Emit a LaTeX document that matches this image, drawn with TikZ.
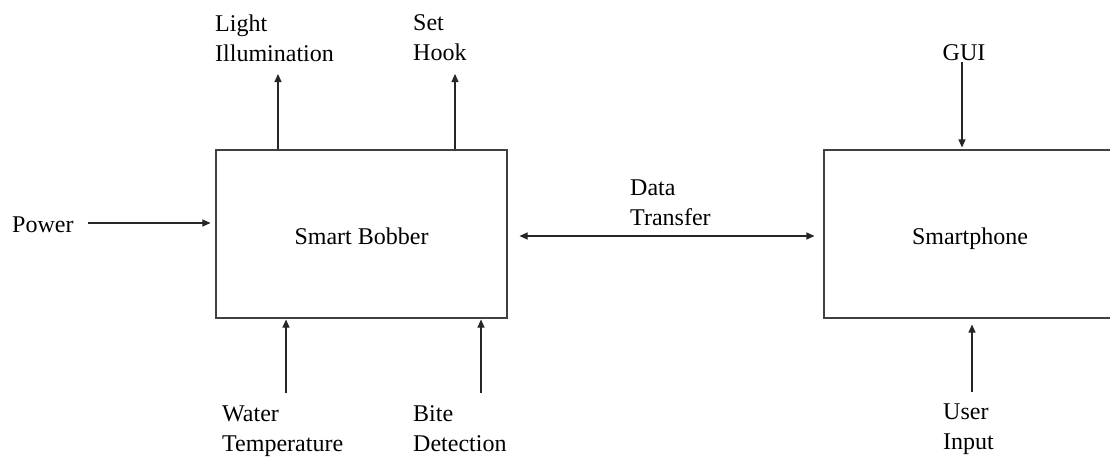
\documentclass[tikz,border=0pt]{standalone}
\usepackage{fontspec}
\setmainfont{Liberation Serif}
\usetikzlibrary{arrows.meta}
\begin{document}
\begin{tikzpicture}[x=1pt,y=-1pt,
  lbl/.style={inner sep=0pt,font=\fontsize{24}{30}\selectfont,align=left},
  blk/.style={draw=black!75,line width=1.1pt,inner sep=0pt,text height=25pt,text depth=5pt,font=\fontsize{24}{30}\selectfont},
  arr/.style={draw=black!85,line width=1.1pt,-{Triangle[length=8pt,width=7pt]}},
  darr/.style={draw=black!85,line width=1.1pt,{Triangle[length=8pt,width=7pt]}-{Triangle[length=8pt,width=7pt]}}]
\useasboundingbox (0,0) rectangle (1110,458);
\clip (0,0) rectangle (1110,458);
\fill[white] (0,0) rectangle (1110,458);
% blocks
\node[blk,minimum width=291pt,minimum height=168pt] (bobber) at (361.5,234) {Smart Bobber};
\node[blk,minimum width=292pt,minimum height=168pt] (phone) at (970,234) {Smartphone};
% labels
\node[lbl,anchor=base west] (power) at (12,232) {Power};
\node[lbl,anchor=north west] (light) at (215,14.3) {Light\\Illumination};
\node[lbl,anchor=north west] (hook) at (413,14) {Set\\Hook};
\node[lbl,anchor=north west] (water) at (222,405.5) {Water\\Temperature};
\node[lbl,anchor=north west] (bite) at (413,405) {Bite\\Detection};
\node[lbl,anchor=north west] (data) at (630,180) {Data\\Transfer};
\node[lbl,anchor=base] (gui) at (964,60) {GUI};
\node[lbl,anchor=north west] (user) at (943,404) {User\\Input};
% connector end points
\coordinate (lightend) at (278,74);
\coordinate (hookend) at (455,74);
\coordinate (waterstart) at (286,393);
\coordinate (bitestart) at (481,393);
\coordinate (guistart) at (962,62);
\coordinate (userstart) at (972,392);
% connectors
\draw[arr,shorten <=14pt,shorten >=5pt] (power.east |- 0,223) -- (bobber.west |- 0,223);
\draw[arr] (bobber.north -| lightend) -- (lightend);
\draw[arr] (bobber.north -| hookend) -- (hookend);
\draw[arr,shorten >=1pt] (waterstart) -- (bobber.south -| waterstart);
\draw[arr,shorten >=1pt] (bitestart) -- (bobber.south -| bitestart);
\draw[darr,shorten <=12pt,shorten >=9pt] (bobber.east |- 0,236) -- (phone.west |- 0,236);
\draw[arr,shorten >=2pt] (guistart) -- (phone.north -| guistart);
\draw[arr,shorten >=6pt] (userstart) -- (phone.south -| userstart);
\end{tikzpicture}
\end{document}
